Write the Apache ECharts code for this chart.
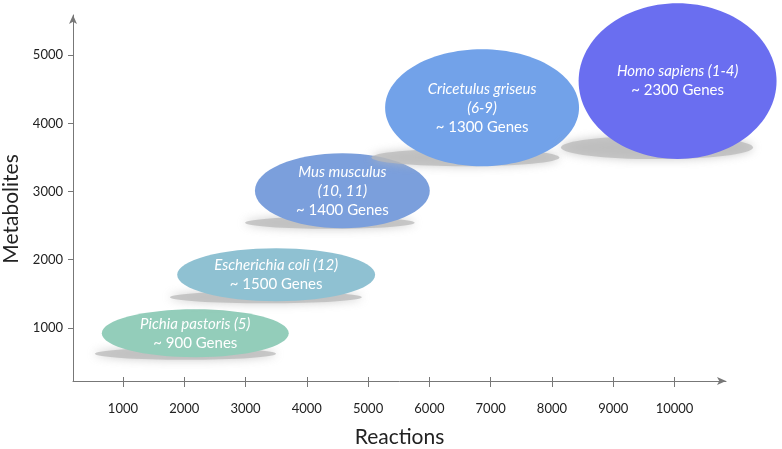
<!DOCTYPE html>
<html>
<head>
<meta charset="utf-8">
<script src="https://cdn.jsdelivr.net/npm/echarts@6/dist/echarts.min.js"></script>
<style>html,body{margin:0;padding:0;background:#fff}#c{width:782px;height:449px}</style>
</head>
<body>
<div id="c"></div>
<script>
// ---- data ----
const organisms = ['Pichia pastoris', 'Escherichia coli', 'Mus musculus', 'Cricetulus griseus', 'Homo sapiens'];
const refs = ['(5)', '(12)', '(10, 11)', '(6-9)', '(1-4)'];
const reactions = [2180, 3500, 4580, 6860, 10050];
const metabolites = [920, 1780, 3010, 4230, 4620];
const genes = [900, 1500, 1400, 1300, 2300];
const xTicks = [1000, 2000, 3000, 4000, 5000, 6000, 7000, 8000, 9000, 10000];
const yTicks = [1000, 2000, 3000, 4000, 5000];

// ---- styles (sizes in data units, colours) ----
const halfSpanX = [1525, 1615, 1427, 1582, 1615];
const halfSpanY = [352, 389, 550, 858, 1144];
const colors = ['#93CDBA', '#8FC1D2', '#7B9FDC', '#72A2E9', '#6A6EF0'];
const breakRef = [false, false, true, true, false];

const FONT = 'Lato, "Open Sans", sans-serif';
const chart = echarts.init(document.getElementById('c'), null, {renderer: 'canvas'});

const seriesData = reactions.map((r, i) => [r, metabolites[i]]);
const plain = v => String(v);

chart.setOption({
  animation: false,
  backgroundColor: '#fff',
  grid: {left: 73, right: 56, top: 15, bottom: 68, containLabel: false, outerBoundsMode: 'none'},
  xAxis: [{
    type: 'value', min: 185, max: 10840, position: 'bottom',
    name: 'Reactions', nameLocation: 'middle', nameGap: 46,
    nameTextStyle: {fontFamily: FONT, fontSize: 21, color: '#222'},
    splitLine: {show: false},
    axisLine: {show: true, lineStyle: {color: '#777', width: 1}, symbol: ['none', 'arrow'], symbolSize: [6, 9]},
    axisTick: {show: true, inside: false, length: 6, lineStyle: {color: '#777'}, customValues: xTicks},
    axisLabel: {fontFamily: FONT, fontSize: 13, color: '#222', margin: 21, customValues: xTicks, formatter: plain}
  }, {
    type: 'value', min: 185, max: 10840, position: 'bottom',
    splitLine: {show: false},
    axisLine: {show: false},
    axisTick: {show: true, inside: true, length: 4, lineStyle: {color: '#777'}, customValues: xTicks},
    axisLabel: {show: false}
  }],
  yAxis: {
    type: 'value', min: 220, max: 5590,
    name: 'Metabolites', nameLocation: 'middle', nameGap: 48, nameRotate: 90,
    nameTextStyle: {fontFamily: FONT, fontSize: 21, color: '#222', padding: [0, 22, 0, 0]},
    splitLine: {show: false},
    axisLine: {show: true, lineStyle: {color: '#777', width: 1}, symbol: ['none', 'arrow'], symbolSize: [6, 9]},
    axisTick: {show: true, inside: false, length: 5, lineStyle: {color: '#777'}, customValues: yTicks},
    axisLabel: {fontFamily: FONT, fontSize: 13, color: '#222', margin: 10, customValues: yTicks, formatter: plain}
  },
  series: [{
    type: 'custom',
    xAxisIndex: 0,
    clip: false,
    data: seriesData,
    renderItem: function (params, api) {
      const i = params.dataIndex;
      const c = api.coord([api.value(0), api.value(1)]);
      const s = api.size([halfSpanX[i], halfSpanY[i]]);
      const rx = s[0], ry = s[1];
      const shRy = Math.max(6, ry * 0.15);
      const nameLine = breakRef[i] ? organisms[i] + '\n' + refs[i] : organisms[i] + ' ' + refs[i];
      const text = nameLine.split('\n').map(t => '{i|' + t + '}').join('\n') + '\n{n|~ ' + genes[i] + ' Genes}';
      return {
        type: 'group',
        children: [{
          type: 'ellipse',
          shape: {cx: c[0] - (5 + ry * 0.2), cy: c[1] + ry * 0.85, rx: rx * 0.97, ry: shRy},
          style: {fill: 'rgba(185,185,185,0.75)', shadowBlur: 10, shadowColor: 'rgba(185,185,185,1)'}
        }, {
          type: 'ellipse',
          shape: {cx: c[0], cy: c[1], rx: rx, ry: ry},
          style: {fill: colors[i]}
        }, {
          type: 'text',
          x: c[0], y: c[1],
          style: {
            text: text,
            align: 'center', verticalAlign: 'middle',
            fill: '#fff',
            rich: {
              i: {fontFamily: FONT, fontStyle: 'italic', fontSize: 15, lineHeight: 19, fill: '#fff', align: 'center'},
              n: {fontFamily: FONT, fontSize: 15, lineHeight: 19, fill: '#fff', align: 'center'}
            }
          }
        }]
      };
    }
  }]
});
</script>
</body>
</html>
